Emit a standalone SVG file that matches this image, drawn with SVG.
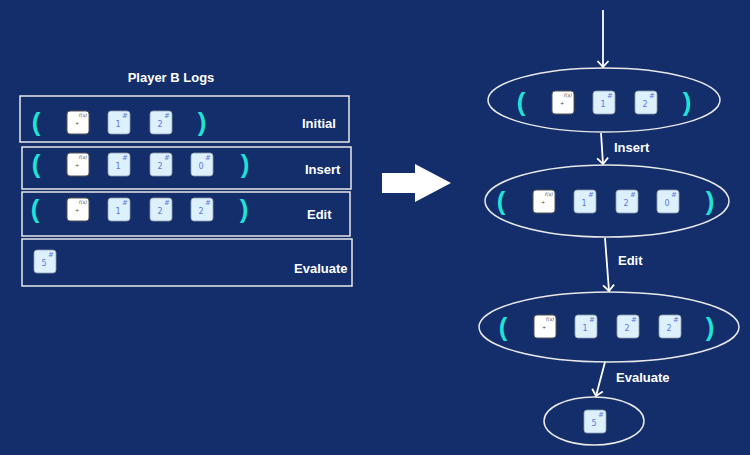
<svg xmlns="http://www.w3.org/2000/svg" xmlns:xlink="http://www.w3.org/1999/xlink" width="750" height="455" viewBox="0 0 750 455">
<style>
.lbl{font-family:"Liberation Sans",Arial,sans-serif;font-weight:bold;font-size:13px;fill:#ffffff}
.par{font-family:"Liberation Sans",Arial,sans-serif;font-weight:bold;font-size:26px;fill:#1fe3d6;text-anchor:middle}
.n{font-family:"DejaVu Sans",sans-serif;font-size:8px;fill:#6275e2;text-anchor:middle}
.hash{font-family:"DejaVu Sans",sans-serif;font-size:7px;font-style:italic;fill:#6275e2;text-anchor:middle}
.fx{font-family:"DejaVu Sans",sans-serif;font-size:5px;font-style:italic;fill:#555555;text-anchor:middle}
.plus{font-family:"DejaVu Sans",sans-serif;font-size:5px;fill:#444444;text-anchor:middle}
.box{fill:none;stroke:#e8e8e8;stroke-width:1.5}
.ell{fill:none;stroke:#e8e8e8;stroke-width:1.5}
.con{fill:none;stroke:#ffffff;stroke-width:1.8}
</style>
<defs>
<marker id="ah" markerWidth="14" markerHeight="14" refX="7" refY="7" orient="auto" markerUnits="userSpaceOnUse">
<path d="M1,1.5 L7,7 L1,12.5" fill="none" stroke="#ffffff" stroke-width="1.8"/>
</marker>
<g id="nt">
<rect x="0" y="0" width="22" height="23" rx="3" fill="#dcf1fb" stroke="#8d9cb0" stroke-width="0.8"/>
<text class="hash" x="17" y="7">#</text>
</g>
<g id="ft">
<rect x="0" y="0" width="22" height="23" rx="3" fill="#ffffff" stroke="#555555" stroke-width="1"/>
<text class="fx" x="16" y="6">f(x)</text>
<text class="plus" x="10" y="14">+</text>
</g>
</defs>
<rect width="750" height="455" fill="#132e6b"/>

<text class="lbl" x="171" y="82" text-anchor="middle" font-size="12.5">Player B Logs</text>

<g id="log-initial">
<rect class="box" x="20" y="96" width="329" height="46"/>
<text class="par" x="36" y="131">(</text>
<use xlink:href="#ft" x="67" y="111"/>
<g transform="translate(108,111)"><use xlink:href="#nt"/><text class="n" x="10" y="16">1</text></g>
<g transform="translate(150,111)"><use xlink:href="#nt"/><text class="n" x="10" y="16">2</text></g>
<text class="par" x="202" y="131">)</text>
<text class="lbl" x="302" y="128">Initial</text>
</g>

<g id="log-insert">
<rect class="box" x="22" y="147" width="329" height="42"/>
<text class="par" x="36" y="173">(</text>
<use xlink:href="#ft" x="67" y="153"/>
<g transform="translate(108,153)"><use xlink:href="#nt"/><text class="n" x="10" y="16">1</text></g>
<g transform="translate(150,153)"><use xlink:href="#nt"/><text class="n" x="10" y="16">2</text></g>
<g transform="translate(191,153)"><use xlink:href="#nt"/><text class="n" x="10" y="16">0</text></g>
<text class="par" x="245" y="173">)</text>
<text class="lbl" x="305" y="174">Insert</text>
</g>

<g id="log-edit">
<rect class="box" x="22" y="192" width="328" height="44"/>
<text class="par" x="35" y="218">(</text>
<use xlink:href="#ft" x="67" y="198"/>
<g transform="translate(108,198)"><use xlink:href="#nt"/><text class="n" x="10" y="16">1</text></g>
<g transform="translate(150,198)"><use xlink:href="#nt"/><text class="n" x="10" y="16">2</text></g>
<g transform="translate(191,198)"><use xlink:href="#nt"/><text class="n" x="10" y="16">2</text></g>
<text class="par" x="244" y="218">)</text>
<text class="lbl" x="307" y="219">Edit</text>
</g>

<g id="log-evaluate">
<rect class="box" x="22" y="239" width="330" height="47"/>
<g transform="translate(34,250)"><use xlink:href="#nt"/><text class="n" x="10" y="16">5</text></g>
<text class="lbl" x="294" y="273">Evaluate</text>
</g>

<polygon id="big-arrow" points="382,173 415,173 415,164 451,183 415,202 415,193 382,193" fill="#ffffff"/>

<g id="state-initial">
<ellipse class="ell" cx="604" cy="100" rx="116" ry="32"/>
<text class="par" x="521" y="111">(</text>
<use xlink:href="#ft" x="552" y="91"/>
<g transform="translate(593,91)"><use xlink:href="#nt"/><text class="n" x="10" y="16">1</text></g>
<g transform="translate(635,91)"><use xlink:href="#nt"/><text class="n" x="10" y="16">2</text></g>
<text class="par" x="687" y="111">)</text>
</g>

<g id="state-insert">
<ellipse class="ell" cx="607" cy="201" rx="122" ry="36"/>
<text class="par" x="501" y="210">(</text>
<use xlink:href="#ft" x="533" y="190"/>
<g transform="translate(574,190)"><use xlink:href="#nt"/><text class="n" x="10" y="16">1</text></g>
<g transform="translate(616,190)"><use xlink:href="#nt"/><text class="n" x="10" y="16">2</text></g>
<g transform="translate(657,190)"><use xlink:href="#nt"/><text class="n" x="10" y="16">0</text></g>
<text class="par" x="710" y="210">)</text>
</g>

<g id="state-edit">
<ellipse class="ell" cx="609" cy="327" rx="130" ry="35"/>
<text class="par" x="503" y="336">(</text>
<use xlink:href="#ft" x="534" y="315"/>
<g transform="translate(575,315)"><use xlink:href="#nt"/><text class="n" x="10" y="16">1</text></g>
<g transform="translate(617,315)"><use xlink:href="#nt"/><text class="n" x="10" y="16">2</text></g>
<g transform="translate(659,315)"><use xlink:href="#nt"/><text class="n" x="10" y="16">2</text></g>
<text class="par" x="710" y="336">)</text>
</g>

<g id="state-evaluate">
<ellipse class="ell" cx="594" cy="421" rx="50" ry="24"/>
<g transform="translate(584,410)"><use xlink:href="#nt"/><text class="n" x="10" y="16">5</text></g>
</g>

<g id="connectors">
<line class="con" x1="603" y1="10" x2="603" y2="67" marker-end="url(#ah)"/>
<line class="con" x1="601" y1="133" x2="603" y2="164" marker-end="url(#ah)"/>
<text class="lbl" x="614" y="152">Insert</text>
<line class="con" x1="605" y1="238" x2="609" y2="291" marker-end="url(#ah)"/>
<text class="lbl" x="618" y="265">Edit</text>
<line class="con" x1="605" y1="362" x2="596" y2="396" marker-end="url(#ah)"/>
<text class="lbl" x="616" y="382">Evaluate</text>
</g>
</svg>
